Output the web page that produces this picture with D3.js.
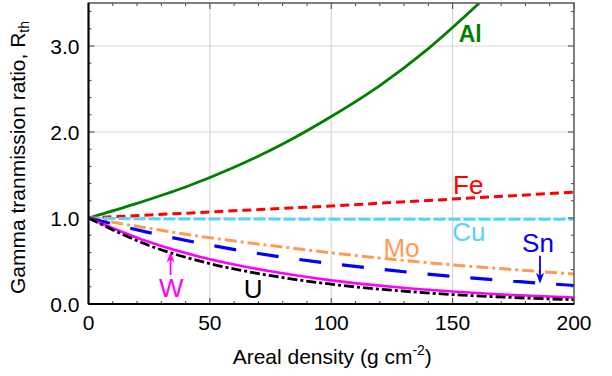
<!DOCTYPE html>
<html>
<head>
<meta charset="utf-8">
<script src="https://cdn.jsdelivr.net/npm/d3@7"></script>
<style>
  body { margin: 0; background: #fff; }
  text { font-family: "Liberation Sans", Arial, sans-serif; }
</style>
</head>
<body>
<div id="chart"></div>
<script>
// areal density, g cm^-2
const density = [0, 25, 50, 75, 100, 125, 150, 175, 200];
const alDensity = [0, 20, 40, 60, 80, 100, 120, 140, 161];

// transmission ratios
const alValues = [1.0, 1.17, 1.36, 1.59, 1.86, 2.18, 2.54, 2.97, 3.5];
const feValues = [1.0, 1.035, 1.07, 1.105, 1.14, 1.18, 1.22, 1.26, 1.30];
const cuValues = [1.0, 0.99, 0.988, 0.987, 0.986, 0.986, 0.985, 0.985, 0.985];
const moValues = [1.0, 0.88, 0.77, 0.68, 0.595, 0.52, 0.455, 0.40, 0.35];
const snValues = [1.0, 0.83, 0.685, 0.565, 0.47, 0.39, 0.32, 0.265, 0.215];
const wValues = [1.0, 0.72, 0.52, 0.38, 0.275, 0.2, 0.145, 0.105, 0.075];
const uValues = [1.0, 0.68, 0.47, 0.33, 0.23, 0.16, 0.11, 0.075, 0.05];

const xTicks = [0, 50, 100, 150, 200];
const yTicks = [0, 1, 2, 3];

const series = [
  { name: "Al", xs: alDensity, ys: alValues, color: "#008000", dash: null, width: 2.8 },
  { name: "Fe", xs: density, ys: feValues, color: "#ff0000", dash: "9,5", width: 3 },
  { name: "Cu", xs: density, ys: cuValues, color: "#55d4f7", dash: "12,3", width: 3 },
  { name: "Mo", xs: density, ys: moValues, color: "#ff9a55", dash: "12,4,3,4", width: 3 },
  { name: "Sn", xs: density, ys: snValues, color: "#0000ff", dash: "22,21", width: 3.2 },
  { name: "W", xs: density, ys: wValues, color: "#ff00ff", dash: null, width: 2.6 },
  { name: "U", xs: density, ys: uValues, color: "#000000", dash: "10,3,3,3", width: 2.8 },
];

// label anchors in data units
const labels = [
  { text: "Al", x: 152.5, y: 3.05, color: "#008000", size: 23, bold: true },
  { text: "Fe", x: 150.2, y: 1.28, color: "#ff0000", size: 26 },
  { text: "Cu", x: 149.8, y: 0.733, color: "#55d4f7", size: 26 },
  { text: "Mo", x: 121.5, y: 0.55, color: "#ff9a55", size: 26 },
  { text: "Sn", x: 178.6, y: 0.608, color: "#0000ff", size: 26 },
  { text: "W", x: 29, y: 0.085, color: "#ff00ff", size: 26 },
  { text: "U", x: 64, y: 0.073, color: "#000000", size: 26 },
];

const arrows = [
  { x: 186, y0: 0.56, y1: 0.235, color: "#0000ff" },
  { x: 33.8, y0: 0.337, y1: 0.61, color: "#ff00ff" },
];

const W = 612, H = 376;
const margin = { top: 3, right: 38, bottom: 72, left: 88.5 };
const width = W - margin.left - margin.right;
const height = H - margin.top - margin.bottom;

const svg = d3.select("#chart").append("svg")
  .attr("width", W).attr("height", H)
  .append("g")
  .attr("transform", `translate(${margin.left},${margin.top})`);

const x = d3.scaleLinear().domain([0, 200]).range([0, width]);
const y = d3.scaleLinear().domain([0, 3.5]).range([height, 0]);

svg.append("defs").append("clipPath").attr("id", "clip")
  .append("rect").attr("width", width).attr("height", height);

// grid
svg.append("g")
  .selectAll("line.gx")
  .data(xTicks.slice(1, -1))
  .enter().append("line")
  .attr("x1", (d) => x(d)).attr("x2", (d) => x(d))
  .attr("y1", 0).attr("y2", height)
  .attr("stroke", "#d8d8d8").attr("stroke-width", 1.2);
svg.append("g")
  .selectAll("line.gy")
  .data(yTicks.slice(1))
  .enter().append("line")
  .attr("x1", 0).attr("x2", width)
  .attr("y1", (d) => y(d)).attr("y2", (d) => y(d))
  .attr("stroke", "#d8d8d8").attr("stroke-width", 1.2);

// curves
const lines = svg.append("g").attr("clip-path", "url(#clip)");
series.forEach((s) => {
  const pts = s.xs.map((d, i) => [d, s.ys[i]]);
  const line = d3.line().x((d) => x(d[0])).y((d) => y(d[1])).curve(d3.curveMonotoneX);
  lines.append("path")
    .datum(pts)
    .attr("d", line)
    .attr("fill", "none")
    .attr("stroke", s.color)
    .attr("stroke-width", s.width)
    .attr("stroke-dasharray", s.dash);
});

// ticks on all four sides, pointing inward
const xMinor = d3.range(0, 201, 10);
const yMinor = d3.range(0, 3.51, 0.2);
const tickSize = (major) => (major ? 6 : 3);
const isXMajor = (d) => d % 50 === 0;
const isYMajor = (d) => Math.abs(d - Math.round(d)) < 1e-6;

svg.append("g").selectAll("line").data(xMinor).enter().append("line")
  .attr("x1", (d) => x(d)).attr("x2", (d) => x(d))
  .attr("y1", height).attr("y2", (d) => height - tickSize(isXMajor(d)))
  .attr("stroke", "#444").attr("stroke-width", 1);
svg.append("g").selectAll("line").data(xMinor).enter().append("line")
  .attr("x1", (d) => x(d)).attr("x2", (d) => x(d))
  .attr("y1", 0).attr("y2", (d) => tickSize(isXMajor(d)))
  .attr("stroke", "#444").attr("stroke-width", 1);
svg.append("g").selectAll("line").data(yMinor).enter().append("line")
  .attr("y1", (d) => y(d)).attr("y2", (d) => y(d))
  .attr("x1", 0).attr("x2", (d) => tickSize(isYMajor(d)))
  .attr("stroke", "#444").attr("stroke-width", 1);
svg.append("g").selectAll("line").data(yMinor).enter().append("line")
  .attr("y1", (d) => y(d)).attr("y2", (d) => y(d))
  .attr("x1", width).attr("x2", (d) => width - tickSize(isYMajor(d)))
  .attr("stroke", "#444").attr("stroke-width", 1);

// frame
svg.append("rect")
  .attr("width", width).attr("height", height)
  .attr("fill", "none").attr("stroke", "#555").attr("stroke-width", 1.5);
svg.append("line").attr("x1", 0).attr("x2", width).attr("y1", height).attr("y2", height)
  .attr("stroke", "#000").attr("stroke-width", 2);
svg.append("line").attr("x1", 0).attr("x2", 0).attr("y1", 0).attr("y2", height)
  .attr("stroke", "#000").attr("stroke-width", 2);

// tick labels
svg.append("g").selectAll("text").data(xTicks).enter().append("text")
  .attr("x", (d) => x(d)).attr("y", height + 26)
  .attr("text-anchor", "middle").attr("font-size", 21)
  .text((d) => d);
svg.append("g").selectAll("text").data(yTicks).enter().append("text")
  .attr("x", -9).attr("y", (d) => y(d) + 7.5)
  .attr("text-anchor", "end").attr("font-size", 21)
  .text((d) => d3.format(".1f")(d));

// axis titles
const xt = svg.append("text")
  .attr("x", width / 2 + 1).attr("y", height + 60)
  .attr("text-anchor", "middle").attr("font-size", 21);
xt.append("tspan").text("Areal density (g cm");
xt.append("tspan").attr("font-size", 14).attr("dy", -9).text("-2");
xt.append("tspan").attr("dy", 9).text(")");

const yt = svg.append("text")
  .attr("transform", `translate(${-64},${height / 2 + 4}) rotate(-90)`)
  .attr("text-anchor", "middle").attr("font-size", 21);
yt.append("tspan").text("Gamma tranmission ratio, R");
yt.append("tspan").attr("font-size", 14).attr("dy", 4).text("th");

// curve labels
svg.append("g").selectAll("text").data(labels).enter().append("text")
  .attr("x", (d) => x(d.x)).attr("y", (d) => y(d.y))
  .attr("fill", (d) => d.color)
  .attr("font-size", (d) => d.size)
  .attr("font-weight", (d) => (d.bold ? "bold" : "normal"))
  .text((d) => d.text);

// arrows
arrows.forEach((a) => {
  const dir = a.y1 < a.y0 ? 1 : -1; // +1 pointing down on screen
  const tipY = y(a.y1);
  const px = x(a.x);
  svg.append("line")
    .attr("x1", px).attr("x2", px)
    .attr("y1", y(a.y0)).attr("y2", tipY - dir * 4)
    .attr("stroke", a.color).attr("stroke-width", 1.8);
  svg.append("path")
    .attr("d", `M${px},${tipY} L${px - 4},${tipY - dir * 11} L${px},${tipY - dir * 8} L${px + 4},${tipY - dir * 11} Z`)
    .attr("fill", a.color);
});
</script>
</body>
</html>
